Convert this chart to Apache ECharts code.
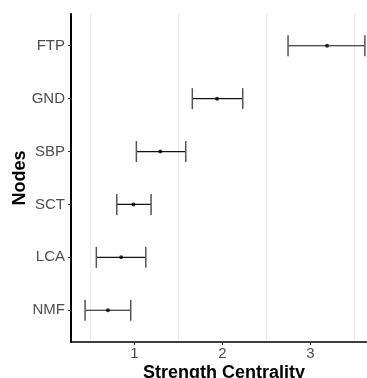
<!DOCTYPE html>
<html>
<head>
<meta charset="utf-8">
<script src="https://cdn.jsdelivr.net/npm/echarts@6/dist/echarts.min.js"></script>
<style>
html,body{margin:0;padding:0;background:#fff;}
#c{width:367px;height:378px;}
</style>
</head>
<body>
<div id="c"></div>
<script>
var nodes = ['FTP', 'GND', 'SBP', 'SCT', 'LCA', 'NMF'];
var estimate = [3.19, 1.94, 1.295, 0.99, 0.85, 0.70];
var lower = [2.747, 1.659, 1.023, 0.80, 0.568, 0.44];
var upper = [3.62, 2.232, 1.584, 1.19, 1.13, 0.959];
var xTicks = [1, 2, 3];
var xGridLines = [0.5, 1.5, 2.5, 3.5];
var yTicks = [0, 1, 2, 3, 4, 5];

var barData = nodes.map(function (n, i) { return [i, lower[i], upper[i]]; });
var pointData = nodes.map(function (n, i) { return [estimate[i], i]; });

var chart = echarts.init(document.getElementById('c'), null, {renderer: 'canvas'});
var font = 'Liberation Sans, Arial, Helvetica, sans-serif';
chart.setOption({
  animation: false,
  backgroundColor: '#ffffff',
  grid: {left: 71, top: 14, right: -10, bottom: 36, containLabel: false, outerBoundsMode: 'none'},
  xAxis: {
    type: 'value', min: 0.28, max: 3.758,
    name: 'Strength Centrality', nameLocation: 'middle', nameGap: 22, nameMoveOverlap: false,
    nameTextStyle: {fontFamily: font, fontSize: 18, fontWeight: 'bold', color: '#000'},
    axisLine: {show: true, onZero: false, lineStyle: {color: '#000', width: 1.5}},
    axisTick: {show: true, length: 3, customValues: xTicks, lineStyle: {color: '#333', width: 1}},
    axisLabel: {customValues: xTicks, margin: 4, fontFamily: font, fontSize: 15, color: '#4d4d4d'},
    splitLine: {show: false}
  },
  yAxis: {
    type: 'value', inverse: true, min: -0.6, max: 5.6,
    name: 'Nodes', nameLocation: 'middle', nameGap: 42, nameMoveOverlap: false,
    nameTextStyle: {fontFamily: font, fontSize: 18, fontWeight: 'bold', color: '#000'},
    axisLine: {show: true, onZero: false, lineStyle: {color: '#000', width: 2}},
    axisTick: {show: true, length: 3, customValues: yTicks, lineStyle: {color: '#333', width: 1}},
    axisLabel: {customValues: yTicks, margin: 6, fontFamily: font, fontSize: 15, color: '#4d4d4d',
      formatter: function (v) { return nodes[Math.round(v)]; }},
    splitLine: {show: false}
  },
  series: [
    {
      type: 'scatter', data: [], z: 0, zlevel: 0, silent: true,
      markLine: {
        silent: true, symbol: 'none', animation: false, z: 0,
        label: {show: false},
        lineStyle: {color: '#ebebeb', width: 1, type: 'solid'},
        data: xGridLines.map(function (v) { return {xAxis: v}; })
      }
    },
    {
      type: 'custom', z: 5, silent: true,
      data: barData,
      renderItem: function (params, api) {
        var y = api.value(0);
        var p1 = api.coord([api.value(1), y]);
        var p2 = api.coord([api.value(2), y]);
        var h = 10.5;
        return {
          type: 'group',
          children: [
            {type: 'line', shape: {x1: p1[0], y1: p1[1], x2: p2[0], y2: p2[1]}, style: {stroke: '#111', lineWidth: 1.2}},
            {type: 'line', shape: {x1: p1[0], y1: p1[1] - h, x2: p1[0], y2: p1[1] + h}, style: {stroke: '#555', lineWidth: 1.5}},
            {type: 'line', shape: {x1: p2[0], y1: p2[1] - h, x2: p2[0], y2: p2[1] + h}, style: {stroke: '#555', lineWidth: 1.5}}
          ]
        };
      }
    },
    {
      type: 'scatter', z: 6, silent: true,
      data: pointData, symbol: 'circle', symbolSize: 4,
      itemStyle: {color: '#000'}
    }
  ]
});
</script>
</body>
</html>
